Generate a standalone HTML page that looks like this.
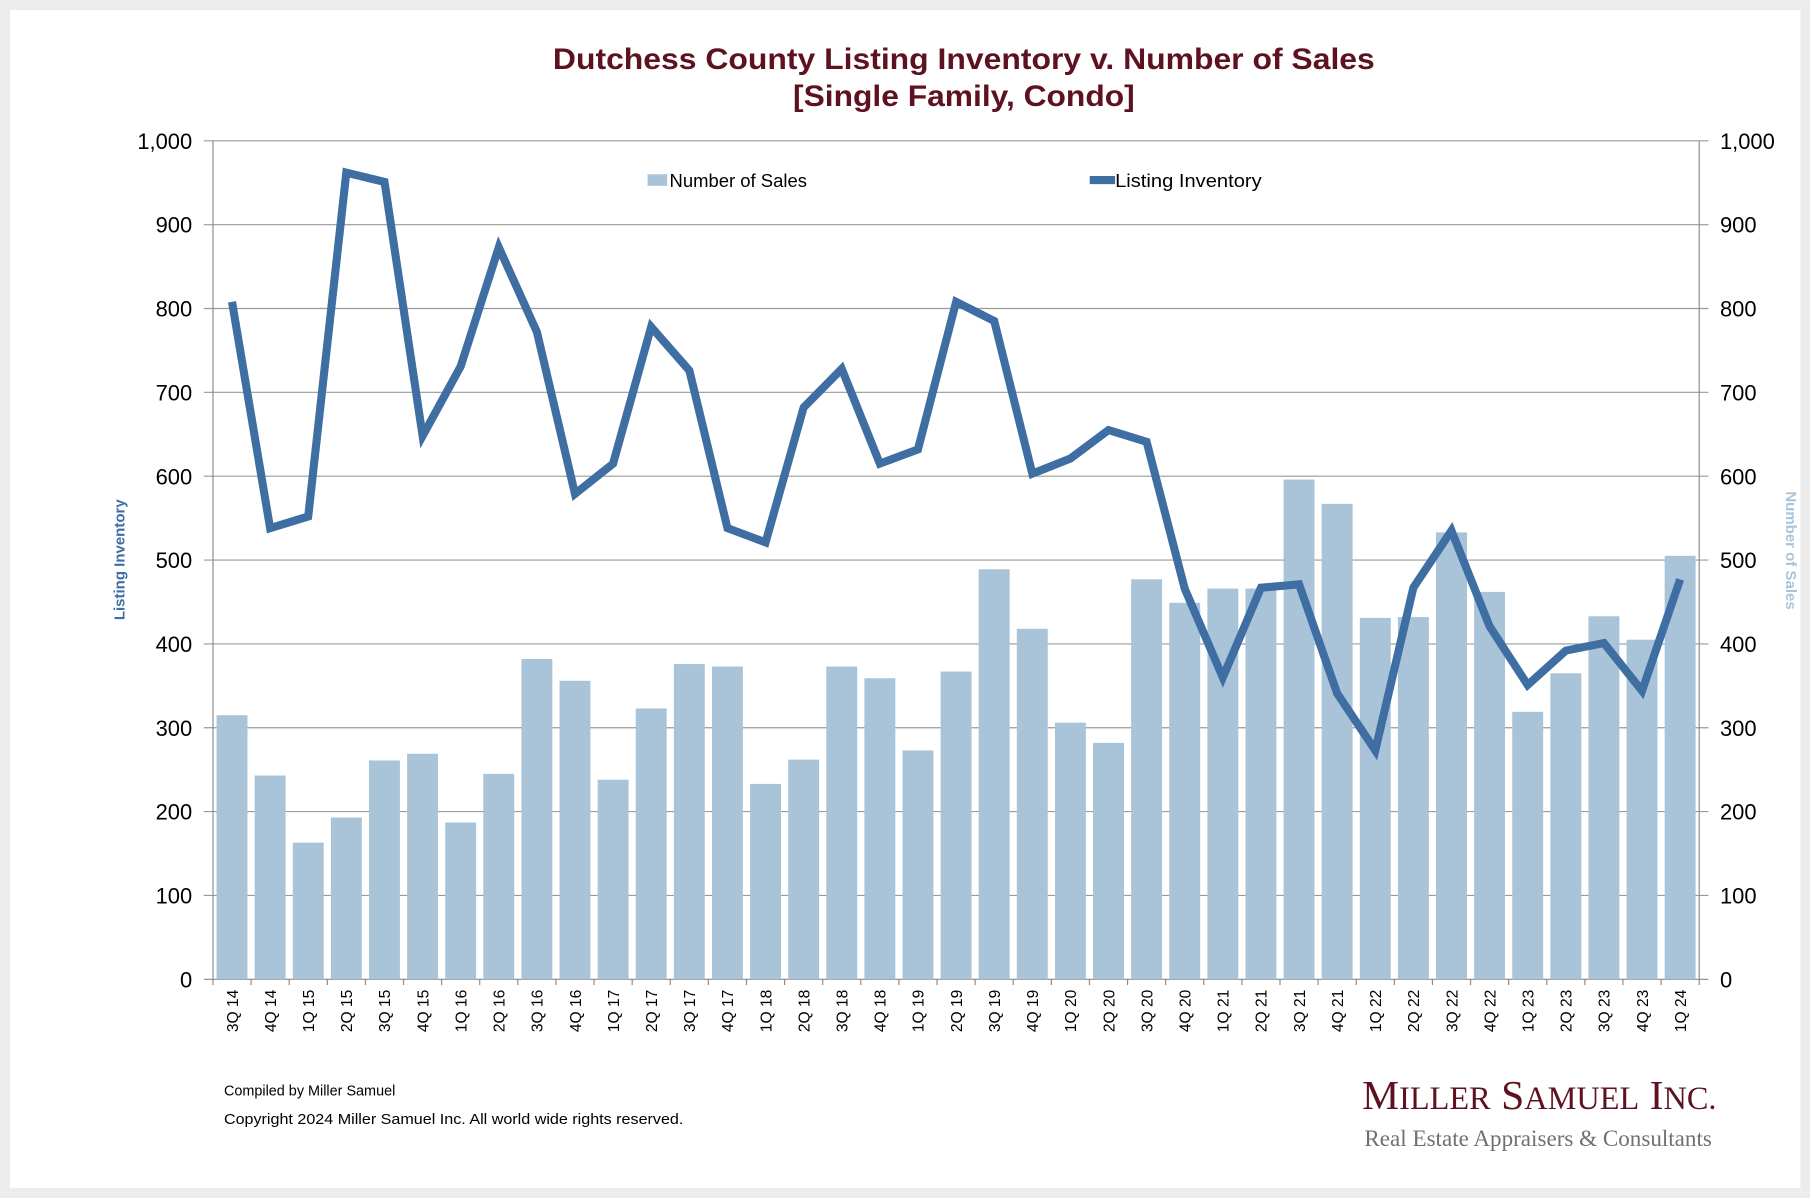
<!DOCTYPE html>
<html><head><meta charset="utf-8"><style>
html,body{margin:0;padding:0;background:#ececec}
svg{display:block}
</style></head><body>
<svg width="1810" height="1198" viewBox="0 0 1568 1038" preserveAspectRatio="none" xmlns="http://www.w3.org/2000/svg" font-family="Liberation Sans, Arial, sans-serif">
<rect x="0" y="0" width="1568" height="1038" fill="#ececec"/>
<rect x="8.7" y="8.7" width="1551" height="1020.5" fill="#ffffff"/>
<text x="835" y="60" text-anchor="middle" font-size="26" font-weight="bold" fill="#5e1220" textLength="712" lengthAdjust="spacingAndGlyphs">Dutchess County Listing Inventory v. Number of Sales</text>
<text x="835" y="92" text-anchor="middle" font-size="26" font-weight="bold" fill="#5e1220" textLength="296" lengthAdjust="spacingAndGlyphs">[Single Family, Condo]</text>
<g id="grid" stroke="#8a8a8a" stroke-width="1"></g>
<g id="bars" fill="#a9c4d9"></g>
<g id="ticks" font-size="18" fill="#000"></g>
<polyline id="line" fill="none" stroke="#3f6ea3" stroke-width="7" stroke-linejoin="miter" stroke-linecap="butt"/>
<rect x="561" y="151" width="17" height="10" fill="#a9c4d9"/>
<text x="580" y="162" font-size="16">Number of Sales</text>
<line x1="944" y1="156" x2="966" y2="156" stroke="#3f6ea3" stroke-width="7"/>
<text x="966" y="162" font-size="16" textLength="127" lengthAdjust="spacingAndGlyphs">Listing Inventory</text>
<text transform="translate(108,485) rotate(-90)" text-anchor="middle" font-size="13" font-weight="bold" fill="#3f6ea3">Listing Inventory</text>
<text transform="translate(1547,477) rotate(90)" text-anchor="middle" font-size="13" font-weight="bold" fill="#a9c4d9">Number of Sales</text>
<text x="194" y="949" font-size="12.5">Compiled by Miller Samuel</text>
<text x="194" y="974" font-size="12.5" textLength="398" lengthAdjust="spacingAndGlyphs">Copyright 2024 Miller Samuel Inc.  All world wide rights reserved.</text>
<text x="1180" y="961" font-family="Liberation Serif, serif" font-size="36" fill="#5e1220" textLength="307" lengthAdjust="spacingAndGlyphs">M<tspan font-size="28">ILLER</tspan> S<tspan font-size="28">AMUEL</tspan> I<tspan font-size="28">NC.</tspan></text>
<text x="1182" y="993" font-family="Liberation Serif, serif" font-size="20" fill="#707070" textLength="301" lengthAdjust="spacingAndGlyphs">Real Estate Appraisers &amp; Consultants</text>
</svg>
<script>
var sales=[315,243,163,193,261,269,187,245,382,356,238,323,376,373,233,262,373,359,273,367,489,418,306,282,477,449,466,466,596,567,431,432,533,462,319,365,433,405,505];
var inv=[808,538,552,962,951,648,731,873,772,579,615,778,726,538,521,682,728,615,632,808,785,603,621,655,641,466,360,467,471,341,273,467,535,421,351,392,401,344,477];
var labs=["3Q 14","4Q 14","1Q 15","2Q 15","3Q 15","4Q 15","1Q 16","2Q 16","3Q 16","4Q 16","1Q 17","2Q 17","3Q 17","4Q 17","1Q 18","2Q 18","3Q 18","4Q 18","1Q 19","2Q 19","3Q 19","4Q 19","1Q 20","2Q 20","3Q 20","4Q 20","1Q 21","2Q 21","3Q 21","4Q 21","1Q 22","2Q 22","3Q 22","4Q 22","1Q 23","2Q 23","3Q 23","4Q 23","1Q 24"];
var NS="http://www.w3.org/2000/svg";
var L=184.5,R=1472,T=122,B=848.5,W=(R-L)/39;
function y(v){return B-(B-T)*v/1000;}
function el(t,a,p,txt){var e=document.createElementNS(NS,t);for(var k in a)e.setAttribute(k,a[k]);if(txt!=null)e.textContent=txt;p.appendChild(e);return e;}
var g=document.getElementById("grid"),b=document.getElementById("bars"),tk=document.getElementById("ticks");
for(var i=0;i<=10;i++){var yy=y(i*100);el("line",{x1:L-8,x2:R+8,y1:yy,y2:yy,stroke:(i==0?"#8a8a8a":"#9a9a9a")},g);
var s=(i==10?"1,000":String(i*100));
el("text",{x:L-18,y:yy+7,"text-anchor":"end","font-size":"19"},tk,s);
el("text",{x:R+18,y:yy+7,"text-anchor":"start","font-size":"19"},tk,s);}
el("line",{x1:L,x2:L,y1:T,y2:B},g);el("line",{x1:R,x2:R,y1:T,y2:B},g);
var pts=[];
for(var i=0;i<39;i++){var cx=L+W*(i+0.5);
el("rect",{x:cx-13.4,y:y(sales[i]),width:26.8,height:B-y(sales[i])},b);
el("line",{x1:L+W*(i+1),x2:L+W*(i+1),y1:B,y2:B+5},g);
el("text",{transform:"translate("+(cx+5)+","+(B+9)+") rotate(-90)","text-anchor":"end","font-size":"13.5"},tk,labs[i]);
pts.push(cx.toFixed(1)+","+y(inv[i]).toFixed(1));}
el("line",{x1:L,x2:L,y1:B,y2:B+5},g);
document.getElementById("line").setAttribute("points",pts.join(" "));
</script>
</body></html>
